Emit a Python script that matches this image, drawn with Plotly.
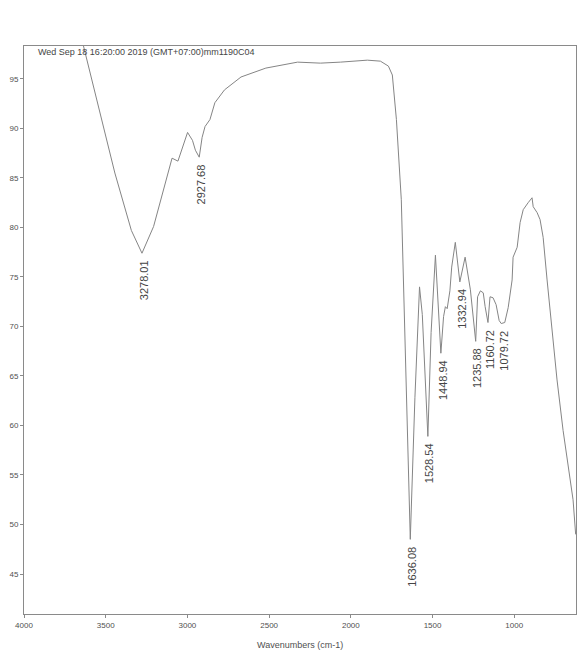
import plotly.graph_objects as go

# Wavenumber (cm-1) and %T
wavenumbers = [3640, 3545, 3444, 3343, 3278.01, 3207, 3147, 3106, 3094, 3058, 3040, 2999, 2969, 2951,
               2927.68, 2910, 2892, 2862, 2832, 2773, 2672, 2520, 2326, 2186, 2064, 1899, 1819, 1770,
               1746, 1721, 1691, 1667, 1648, 1636.08, 1607.8, 1579.5, 1562.5, 1545.5, 1528.54, 1508.7,
               1482.2, 1448.94, 1432.4, 1421.3, 1410.3, 1393.7, 1382.7, 1360.6, 1332.94, 1300.6, 1268.2,
               1235.88, 1224.3, 1207.0, 1189.6, 1178.1, 1160.72, 1148.3, 1129.6, 1110.9, 1092.2, 1079.72,
               1058, 1037, 1013, 1007, 982, 964, 945, 915, 891, 884, 860, 842, 823, 799, 768, 738, 701,
               658, 640, 624]
transmittance = [98.6, 92.2, 85.5, 79.7, 77.4, 80.1, 83.8, 86.5, 87.0, 86.7, 87.6, 89.6, 88.8, 87.8,
                 87.1, 89.1, 90.2, 90.9, 92.6, 93.9, 95.2, 96.1, 96.7, 96.6, 96.7, 96.9, 96.8, 96.3,
                 95.4, 90.9, 82.8, 67.6, 54.5, 48.5, 62.8, 74.0, 71.2, 64.5, 58.9, 69.4,
                 77.2, 67.3, 71.0, 72.0, 71.8, 73.6, 76.0, 78.5, 74.5, 77.0, 73.7,
                 68.5, 73.0, 73.6, 73.4, 72.0, 70.4, 73.0, 72.9, 72.2, 70.6, 70.3,
                 70.4, 71.9, 74.7, 77.0, 78.0, 80.5, 81.8, 82.5, 83.0, 82.1, 81.5, 80.8, 79.0, 74.7, 69.6,
                 64.6, 59.5, 54.5, 52.5, 49.0]

peak_labels = ["3278.01", "2927.68", "1636.08", "1528.54", "1448.94", "1332.94", "1235.88", "1160.72", "1079.72"]

x_ticks = [4000, 3500, 3000, 2500, 2000, 1500, 1000]
y_ticks = [45, 50, 55, 60, 65, 70, 75, 80, 85, 90, 95]

header_text = "Wed Sep 18 16:20:00 2019 (GMT+07:00)mm1190C04"
x_title = "Wavenumbers (cm-1)"

FONT = "Liberation Sans, Arial, sans-serif"
INK = "#505050"

fig = go.Figure()
fig.add_trace(go.Scatter(x=wavenumbers, y=transmittance, mode="lines",
                         line=dict(color="#858585", width=1), hoverinfo="x+y"))

wn_lookup = {f"{w:.2f}": (w, t) for w, t in zip(wavenumbers, transmittance)}
for lab in peak_labels:
    w, t = wn_lookup[lab]
    fig.add_annotation(x=w, y=t, text=lab, textangle=-90, showarrow=False,
                       xanchor="center", yanchor="top", xshift=2, yshift=-5,
                       font=dict(family=FONT, size=11, color="#454545"))

fig.add_annotation(xref="paper", yref="paper", x=0.022, y=0.989, text=header_text,
                   showarrow=False, xanchor="left", yanchor="middle",
                   font=dict(family=FONT, size=9, color="#454545"))

fig.add_annotation(xref="paper", yref="paper", x=0.5, y=-0.055, text=x_title,
                   showarrow=False, xanchor="center", yanchor="middle",
                   font=dict(family=FONT, size=9, color=INK))

# the page body has an 8 px default margin, so the figure is sized/margined to compensate
fig.update_layout(
    width=580, height=647,
    margin=dict(l=16, r=12, t=38, b=41, autoexpand=False),
    paper_bgcolor="white", plot_bgcolor="white",
    showlegend=False,
    font=dict(family=FONT, size=9, color=INK),
)
fig.update_xaxes(range=[4000, 622], tickvals=x_ticks, ticktext=[str(v) for v in x_ticks],
                 showgrid=False, zeroline=False, showline=True, linecolor="#8a8a8a", linewidth=1,
                 mirror=True, ticks="outside", ticklen=3, tickcolor="#8a8a8a", automargin=False,
                 tickfont=dict(family=FONT, size=8, color=INK))
fig.update_yaxes(range=[40.96, 98.33], tickvals=y_ticks, ticktext=[str(v) for v in y_ticks],
                 showgrid=False, zeroline=False, showline=True, linecolor="#8a8a8a", linewidth=1,
                 mirror=True, ticks="outside", ticklen=3, tickcolor="#8a8a8a", automargin=False,
                 tickfont=dict(family=FONT, size=8, color=INK))

fig.write_html("out.html")
